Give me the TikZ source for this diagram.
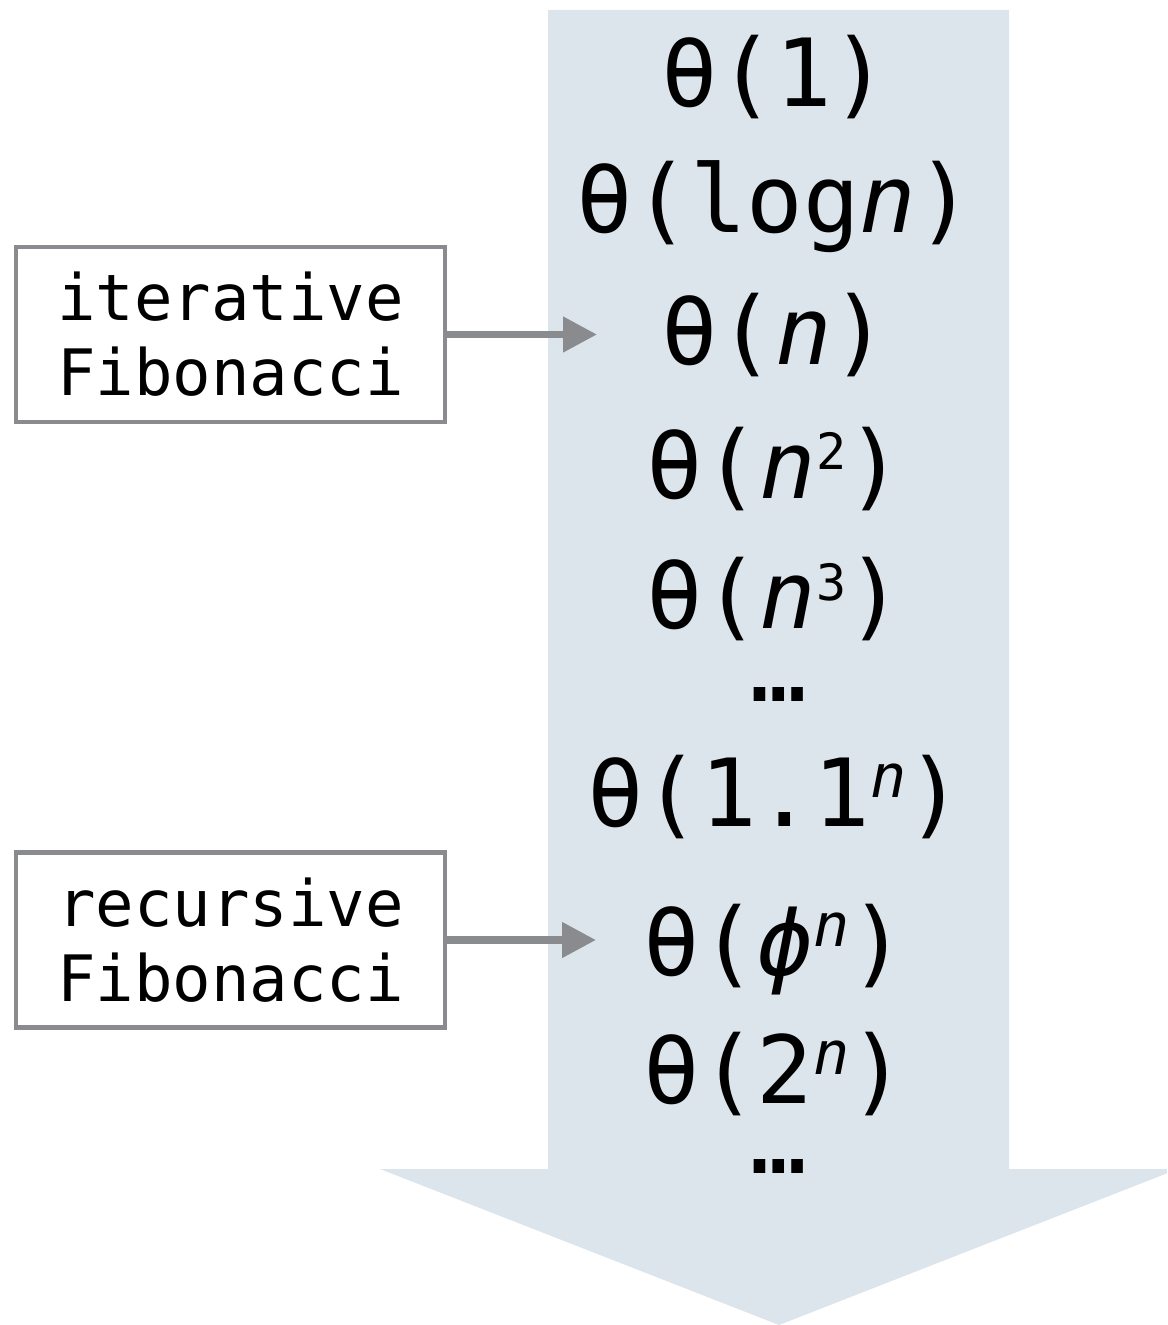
\documentclass[tikz,border=0pt]{standalone}
\usepackage{fontspec}
\setmonofont{DejaVu Sans Mono}
\usetikzlibrary{arrows.meta}

\definecolor{shaftfill}{RGB}{220,228,236}
\definecolor{linegray}{RGB}{137,139,143}

% sizes for the growth orders and their exponents
\newcommand\ordersize{\fontsize{47pt}{50pt}\selectfont}
\newcommand\supdigit[1]{\raisebox{14pt}{\fontsize{25pt}{26pt}\selectfont #1}}
\newcommand\supvar[1]{\raisebox{14.5pt}{\fontsize{30pt}{31pt}\selectfont\itshape #1}}

\begin{document}
\begin{tikzpicture}[x=0.5pt,y=-0.5pt,
  order/.style={font=\ttfamily\ordersize, anchor=base, inner sep=0pt},
  labelbox/.style={draw=linegray, line width=2.4pt, fill=white,
    minimum width=214.5pt, minimum height=87.5pt, inner sep=0pt,
    align=center, font=\ttfamily\fontsize{32pt}{37.5pt}\selectfont},
  link/.style={draw=linegray, line width=3.8pt,
    -{Triangle[length=17pt,width=17pt]}}]
\useasboundingbox (0,0) rectangle (1167,1325);
\clip (0,0) rectangle (1167,1325);

% the big downward arrow
\fill[shaftfill] (548,10) -- (1009,10) -- (1009,1169) -- (1178,1169)
  -- (779,1325) -- (380,1169) -- (548,1169) -- cycle;

% orders of growth, top to bottom
\node[order] (o1)    at (775,107)  {θ(1)};
\node[order] (ologn) at (775,233)  {θ(log\textit{n})};
\node[order] (on)    at (775,365)  {θ(\textit{n})};
\node[order] (on2)   at (775,498)  {θ(\textit{n}\supdigit{2})};
\node[order] (on3)   at (775,628)  {θ(\textit{n}\supdigit{3})};
\node[order] (dotsa) at (779,701)  {…};
\node[order] (o11)   at (775,826)  {θ(1.1\supvar{n})};
\node[order] (ophi)  at (775,975)  {θ(\textit{ϕ}\supvar{n})};
\node[order] (o2n)   at (775,1103) {θ(2\supvar{n})};
\node[order] (dotsb) at (779,1173) {…};

% algorithm labels
\node[labelbox] (iter) at (230.5,334.5) {iterative\\Fibonacci};
\node[labelbox] (rec)  at (230.5,940)   {recursive\\Fibonacci};

\coordinate (itertip) at (597,334.5);
\coordinate (rectip)  at (596,940);
\draw[link] (iter.east) -- (itertip);
\draw[link] (rec.east) -- (rectip);
\end{tikzpicture}
\end{document}
